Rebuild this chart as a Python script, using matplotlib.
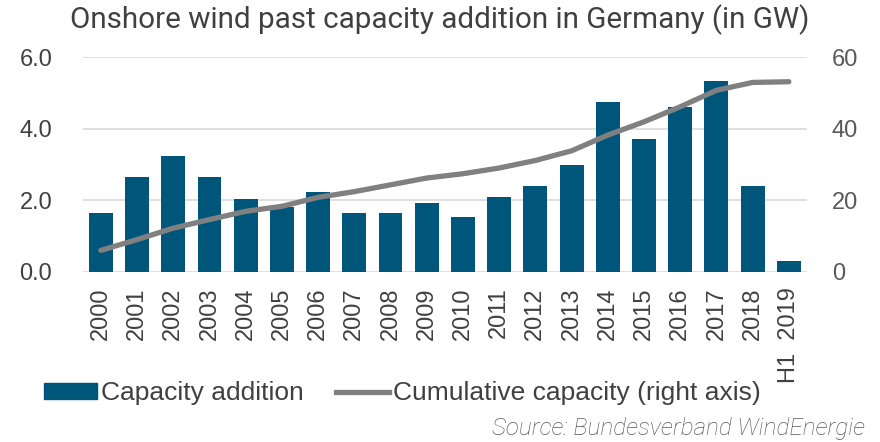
import numpy as np
import matplotlib.pyplot as plt
from matplotlib.patches import Patch
from matplotlib.lines import Line2D

years = ['2000', '2001', '2002', '2003', '2004', '2005', '2006', '2007', '2008', '2009',
         '2010', '2011', '2012', '2013', '2014', '2015', '2016', '2017', '2018', 'H1  2019']
addition = [1.65, 2.66, 3.24, 2.64, 2.03, 1.80, 2.23, 1.65, 1.65, 1.91,
            1.54, 2.08, 2.41, 2.99, 4.74, 3.72, 4.61, 5.32, 2.40, 0.30]
cumulative = [6.0, 9.0, 12.2, 14.6, 16.9, 18.3, 20.8, 22.4, 24.3, 26.2,
              27.4, 29.0, 31.1, 33.8, 38.2, 41.9, 46.1, 50.7, 52.9, 53.1]

bar_color = '#00557a'
line_color = '#808080'
text_color = '#404040'

plt.rcParams['font.family'] = ['Liberation Sans', 'DejaVu Sans']

fig = plt.figure(figsize=(8.8, 4.42), dpi=100)
ax = fig.add_axes([0.094, 0.385, 0.823, 0.486])
ax2 = ax.twinx()

x = np.arange(len(years))
ax.bar(x, addition, width=0.66, color=bar_color, zorder=2)
ax2.plot(x, cumulative, color=line_color, lw=3.8, solid_capstyle='round', zorder=3)

ax.set_xlim(-0.5, len(years) - 0.5)
ax.set_ylim(0, 6)
ax2.set_ylim(0, 60)
ax.set_yticks([0, 2, 4, 6])
ax.set_yticklabels(['0.0', '2.0', '4.0', '6.0'])
ax2.set_yticks([0, 20, 40, 60])

ax.grid(axis='y', color='#d9d9d9', lw=1.2, zorder=0)
ax.set_axisbelow(True)
for a in (ax, ax2):
    for s in a.spines.values():
        s.set_visible(False)
    a.tick_params(length=0)

ax.set_xticks(x)
ax.set_xticklabels(years, rotation=90, fontsize=17, color=text_color)
ax.tick_params(axis='x', pad=11)
ax.tick_params(axis='y', labelsize=17, colors=text_color, pad=22)
ax2.tick_params(axis='y', labelsize=17, colors='#595959', pad=18)

fig.text(0.5, 0.955, 'Onshore wind past capacity addition in Germany (in GW)',
         ha='center', va='center', fontsize=21.3, color=text_color, family='Roboto')

handles = [Patch(color=bar_color, label='Capacity addition'),
           Line2D([], [], color=line_color, lw=3.8, label='Cumulative capacity (right axis)')]
fig.legend(handles=handles, loc='center left', bbox_to_anchor=(0.023, 0.11), ncol=2,
           frameon=False, prop={'size': 19}, labelcolor=text_color,
           handlelength=2.0, handleheight=0.55, handletextpad=0.15, columnspacing=1.25)

fig.text(0.983, 0.016, 'Source: Bundesverband WindEnergie', ha='right', va='baseline',
         fontsize=17.5, color='#595959', style='italic', family='Roboto', weight='light')

fig.savefig('out.png', dpi=100)
